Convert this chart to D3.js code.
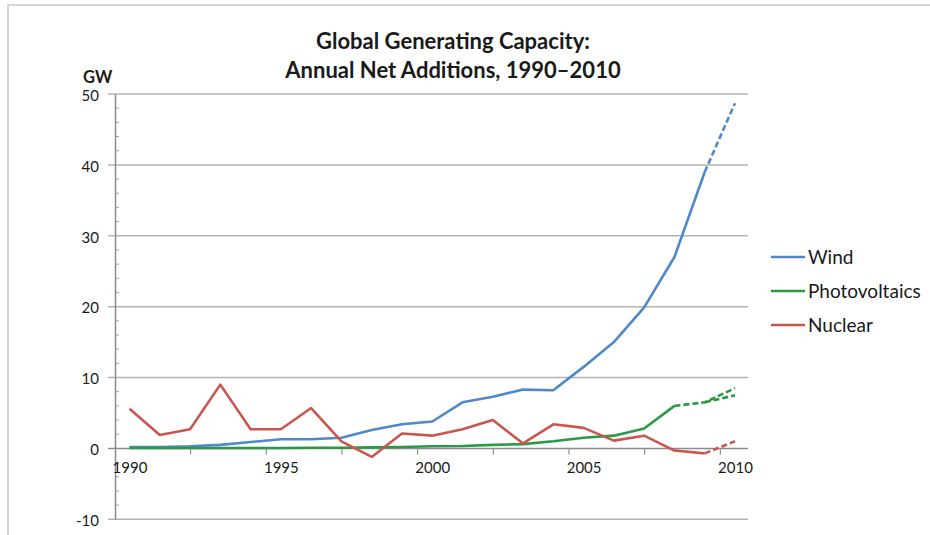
<!DOCTYPE html>
<html>
<head>
<meta charset="utf-8">
<script src="https://cdn.jsdelivr.net/npm/d3@7"></script>
<style>
body { margin: 0; background: #fff; }
text { font-family: Lato, "Liberation Sans", sans-serif; fill: #1a1a1a; }
</style>
</head>
<body>
<script>
var years = [1990, 1991, 1992, 1993, 1994, 1995, 1996, 1997, 1998, 1999, 2000,
             2001, 2002, 2003, 2004, 2005, 2006, 2007, 2008, 2009, 2010];
var wind = [0.2, 0.2, 0.3, 0.5, 0.9, 1.3, 1.3, 1.5, 2.6, 3.4, 3.8,
            6.5, 7.3, 8.3, 8.2, 11.5, 15.0, 19.9, 27.0, 39.0, 48.7];
var photovoltaics = [0.05, 0.05, 0.05, 0.05, 0.05, 0.05, 0.1, 0.1, 0.15, 0.2, 0.3,
                     0.35, 0.5, 0.6, 1.0, 1.5, 1.8, 2.8, 6.0, 6.5, 8.5];
var photovoltaicsLow2010 = 7.5;   // second (lower) estimate for 2010
var nuclear = [5.6, 1.9, 2.7, 9.0, 2.7, 2.7, 5.7, 1.0, -1.2, 2.1, 1.8,
               2.7, 4.0, 0.7, 3.4, 2.9, 1.1, 1.8, -0.3, -0.7, 1.0];
// first year of the dashed (estimated) part of each series
var estimatedFrom = { Wind: 2009, Photovoltaics: 2008, Nuclear: 2009 };

var yTicks = [-10, 0, 10, 20, 30, 40, 50];
var yMinorTicks = [-8, -6, -4, -2, 2, 4, 6, 8, 12, 14, 16, 18, 22, 24, 26, 28,
                   32, 34, 36, 38, 42, 44, 46, 48];
var xTicks = [1992, 1994.5, 1997, 1999.5, 2002, 2004.5, 2007, 2009.5];
var xLabels = [1990, 1995, 2000, 2005, 2010];

var series = [
    { name: "Wind", values: wind, color: "#5089c9" },
    { name: "Photovoltaics", values: photovoltaics, color: "#2a9a45" },
    { name: "Nuclear", values: nuclear, color: "#c9574f" }
];

var svg = d3.select("body").append("svg")
    .attr("width", 930)
    .attr("height", 535);

// chart frame
svg.append("rect")
    .attr("x", 8).attr("y", 5)
    .attr("width", 1000).attr("height", 1000)
    .attr("fill", "none")
    .attr("stroke", "#d4d4d4")
    .attr("stroke-width", 2);

var x = d3.scaleLinear().domain([1990, 2010]).range([129.5, 735]);
var y = d3.scaleLinear().domain([-10, 50]).range([519.3, 94]);
var axisX = 115, plotRight = 748;

// gridlines
svg.selectAll(".grid")
    .data(yTicks)
    .enter().append("line")
    .attr("x1", axisX - 7).attr("x2", plotRight)
    .attr("y1", function(d) { return y(d); })
    .attr("y2", function(d) { return y(d); })
    .attr("stroke", function(d) { return d === 0 ? "#8c8c8c" : "#b3b3b3"; })
    .attr("stroke-width", 1.5);

// minor ticks on the value axis
svg.selectAll(".minor")
    .data(yMinorTicks)
    .enter().append("line")
    .attr("x1", axisX).attr("x2", axisX + 4)
    .attr("y1", function(d) { return y(d); })
    .attr("y2", function(d) { return y(d); })
    .attr("stroke", "#a0a0a0");

// y axis
var gy = svg.append("g")
    .attr("transform", "translate(" + axisX + ",0)")
    .call(d3.axisLeft(y).tickValues(yTicks).tickSize(0).tickPadding(16)
        .tickFormat(function(d) { return String(d); }));
gy.select(".domain").attr("stroke", "#8c8c8c").attr("stroke-width", 1.5);
gy.selectAll("text").style("font-size", "15px").attr("fill", "#1a1a1a").attr("dy", "0.42em");

svg.append("text")
    .attr("x", 83).attr("y", 83)
    .style("font-size", "16.5px").style("font-weight", "bold")
    .text("GW");

// x axis ticks and labels
var gx = svg.append("g")
    .attr("transform", "translate(0," + y(0) + ")")
    .call(d3.axisBottom(x).tickValues(xTicks).tickSize(6).tickFormat(""));
gx.select(".domain").remove();
gx.selectAll(".tick line").attr("stroke", "#8c8c8c").attr("stroke-width", 1.2);

var gxl = svg.append("g")
    .attr("transform", "translate(0," + y(0) + ")")
    .call(d3.axisBottom(x).tickValues(xLabels).tickSize(0).tickPadding(14).tickFormat(d3.format("d")));
gxl.select(".domain").remove();
gxl.selectAll("text").style("font-size", "15px").attr("fill", "#1a1a1a");

// lines
var line = d3.line()
    .x(function(d) { return x(d[0]); })
    .y(function(d) { return y(d[1]); });

series.forEach(function(s) {
    var pts = years.map(function(yr, i) { return [yr, s.values[i]]; });
    var k = years.indexOf(estimatedFrom[s.name]);
    svg.append("path")
        .attr("d", line(pts.slice(0, k + 1)))
        .attr("fill", "none")
        .attr("stroke", s.color)
        .attr("stroke-width", 2.6)
        .attr("stroke-linejoin", "round");
    svg.append("path")
        .attr("d", line(pts.slice(k)))
        .attr("fill", "none")
        .attr("stroke", s.color)
        .attr("stroke-width", 2.6)
        .attr("stroke-dasharray", "6,3");
    if (s.name === "Photovoltaics") {
        var n = years.length;
        svg.append("path")
            .attr("d", line([pts[n - 2], [years[n - 1], photovoltaicsLow2010]]))
            .attr("fill", "none")
            .attr("stroke", s.color)
            .attr("stroke-width", 2.6)
            .attr("stroke-dasharray", "6,3");
    }
});

// title
var title = svg.append("text")
    .attr("text-anchor", "middle")
    .style("font-size", "22px").style("font-weight", "bold");
title.append("tspan").attr("x", 453).attr("y", 49).text("Global Generating Capacity:");
title.append("tspan").attr("x", 453).attr("y", 78).text("Annual Net Additions, 1990\u20132010");

// legend
var legend = svg.selectAll(".legend")
    .data(series)
    .enter().append("g")
    .attr("transform", function(d, i) { return "translate(771," + (257 + i * 34) + ")"; });
legend.append("line")
    .attr("x1", 0).attr("x2", 34)
    .attr("stroke", function(d) { return d.color; })
    .attr("stroke-width", 2.6);
legend.append("text")
    .attr("x", 37).attr("y", 6.5)
    .style("font-size", "19px")
    .text(function(d) { return d.name; });
</script>
</body>
</html>
